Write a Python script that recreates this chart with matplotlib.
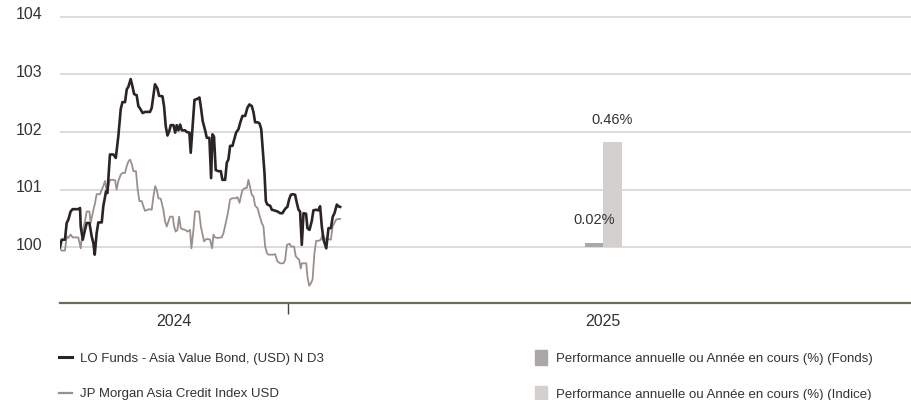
import pandas as pd
import matplotlib
matplotlib.use("Agg")
import matplotlib.pyplot as plt
import matplotlib.transforms as mtransforms
from matplotlib.lines import Line2D
from matplotlib.patches import Patch

# ----- data -----
start = pd.Timestamp("2024-08-21")

# days after start, value (base 100)
fund_day = [0.0, 1.0, 2.9, 3.9, 4.9, 6.2, 7.4, 10.7, 11.7, 12.1, 13.3, 14.6, 15.6, 17.2, 18.5, 19.5,
            20.3, 21.4, 22.4, 24.4, 25.3, 26.9, 27.7, 29.2, 31.2, 32.6, 34.1, 35.5, 36.5, 38.0, 39.0,
            40.0, 41.3, 42.3, 43.3, 44.8, 45.8, 46.8, 48.3, 49.7, 52.6, 53.6, 54.6, 55.5, 56.9, 57.9,
            59.9, 60.8, 61.8, 62.8, 63.9, 64.7, 66.3, 67.3, 68.2, 69.2, 70.2, 71.2, 73.1, 74.1, 75.6,
            76.4, 78.6, 79.9, 81.5, 82.4, 83.4, 84.8, 85.8, 87.3, 88.3, 89.1, 90.0, 91.0, 92.6, 94.0,
            94.9, 96.5, 97.5, 98.4, 99.4, 100.8, 101.8, 102.9, 104.3, 105.3, 106.6, 108.2, 109.5,
            110.7, 112.1, 113.1, 114.0, 115.4, 116.6, 117.6, 118.5, 119.5, 120.3, 121.2, 122.8,
            123.8, 125.1, 127.1, 128.7, 130.0, 131.0, 132.0, 132.9, 133.9, 134.9, 136.0, 137.4,
            138.4, 139.4, 140.3, 141.3, 142.3, 143.8, 144.6, 145.8, 147.1, 148.1, 149.7, 151.0,
            152.0, 153.0, 154.0, 155.6, 156.9, 158.3, 159.4, 160.4, 161.8, 162.7, 163.7]
fund_val = [100.00, 100.13, 100.13, 100.42, 100.48, 100.62, 100.66, 100.66, 100.68, 100.36, 100.13,
            100.30, 100.42, 100.42, 100.19, 100.07, 99.87, 100.24, 100.43, 100.43, 100.71, 100.97,
            100.94, 101.61, 101.61, 101.55, 101.93, 102.40, 102.52, 102.52, 102.74, 102.79, 102.92,
            102.80, 102.66, 102.64, 102.45, 102.41, 102.33, 102.35, 102.35, 102.42, 102.63, 102.83,
            102.76, 102.63, 102.62, 102.45, 102.10, 101.94, 102.02, 102.12, 102.12, 101.99, 102.12,
            102.03, 102.13, 102.03, 102.03, 102.00, 101.99, 101.64, 102.56, 102.57, 102.60, 102.42,
            102.19, 102.03, 101.90, 101.90, 101.20, 101.96, 101.92, 101.34, 101.32, 101.32, 101.17,
            101.17, 101.47, 101.52, 101.76, 101.76, 101.87, 101.99, 102.05, 102.16, 102.28, 102.28,
            102.42, 102.48, 102.45, 102.34, 102.17, 102.17, 102.15, 102.05, 101.70, 101.29, 100.80,
            100.74, 100.72, 100.65, 100.64, 100.62, 100.59, 100.59, 100.64, 100.68, 100.70, 100.83,
            100.91, 100.92, 100.91, 100.77, 100.65, 100.62, 100.04, 100.59, 100.58, 100.33, 100.30,
            100.45, 100.64, 100.65, 100.64, 100.71, 100.36, 100.13, 99.98, 100.33, 100.33, 100.53,
            100.59, 100.74, 100.71, 100.70]

index_day = [0.0, 1.0, 2.9, 3.9, 4.9, 6.2, 7.4, 10.7, 12.1, 13.3, 14.6, 15.6, 17.2, 17.9, 19.1, 20.5,
             21.4, 23.4, 24.4, 25.3, 26.3, 27.3, 28.3, 29.2, 31.2, 32.2, 33.1, 34.1, 35.5, 36.6, 38.0,
             39.0, 40.0, 40.9, 41.9, 42.9, 44.4, 45.4, 46.4, 47.8, 48.7, 49.7, 52.0, 53.6, 54.6, 55.6,
             56.5, 57.5, 58.9, 60.4, 61.4, 62.4, 63.4, 64.3, 65.9, 66.7, 67.6, 68.6, 69.6, 70.6, 71.7,
             73.3, 74.5, 76.0, 76.8, 78.0, 78.9, 81.3, 82.3, 83.2, 84.2, 85.4, 86.7, 87.7, 88.9, 89.7,
             90.6, 92.0, 94.5, 95.5, 97.1, 98.1, 99.4, 100.8, 102.7, 103.7, 104.9, 105.7, 106.6, 108.2,
             109.2, 110.1, 111.1, 112.1, 113.1, 114.0, 115.4, 116.6, 117.9, 118.9, 119.9, 120.9, 121.8,
             124.8, 125.7, 127.1, 128.7, 130.6, 131.6, 132.6, 134.1, 135.1, 136.8, 137.8, 138.8, 139.8,
             140.7, 141.3, 143.9, 144.6, 145.6, 146.6, 147.6, 148.7, 149.7, 151.1, 152.4, 153.6, 155.0,
             156.9, 158.3, 159.3, 160.2, 161.4, 162.8, 163.7]
index_val = [99.98, 99.94, 99.94, 100.19, 100.16, 100.22, 100.17, 100.17, 99.98, 100.30, 100.45,
             100.62, 100.62, 100.42, 100.59, 100.77, 100.92, 100.92, 101.00, 101.06, 101.15, 100.97,
             101.06, 101.17, 101.17, 101.16, 101.00, 101.15, 101.26, 101.29, 101.29, 101.41, 101.49,
             101.52, 101.45, 101.32, 101.32, 101.00, 100.80, 100.80, 100.71, 100.63, 100.66, 100.65,
             100.88, 101.06, 101.00, 100.85, 100.84, 100.65, 100.45, 100.36, 100.45, 100.53, 100.53,
             100.36, 100.27, 100.30, 100.53, 100.33, 100.31, 100.30, 100.27, 100.30, 99.98, 100.30,
             100.62, 100.62, 100.36, 100.24, 100.10, 100.14, 100.14, 100.13, 99.98, 100.22, 100.17,
             100.16, 100.17, 100.24, 100.45, 100.59, 100.83, 100.85, 100.85, 100.87, 100.77, 100.88,
             100.99, 101.03, 101.03, 101.17, 101.04, 100.91, 100.88, 100.72, 100.68, 100.55, 100.42,
             100.36, 100.01, 99.90, 99.87, 99.87, 99.88, 99.75, 99.72, 99.72, 99.78, 100.04, 100.06,
             100.01, 100.01, 99.84, 99.81, 99.78, 99.63, 99.72, 99.72, 99.49, 99.33, 99.37, 99.44,
             99.90, 100.11, 100.11, 100.13, 100.22, 100.13, 100.14, 100.13, 100.36, 100.41, 100.48,
             100.49, 100.49]

years = ["2024", "2025"]
perf_fund = [0.02]    # 2025 YTD (%)
perf_index = [0.46]

fund_label = "LO Funds - Asia Value Bond, (USD) N D3"
index_label = "JP Morgan Asia Credit Index USD"
bar_fund_label = "Performance annuelle ou Année en cours (%) (Fonds)"
bar_index_label = "Performance annuelle ou Année en cours (%) (Indice)"

# ----- style -----
C_FUND = "#2b2325"
C_INDEX = "#9a8f8b"
C_BAR_F = "#aba6a7"
C_BAR_I = "#d4d0cd"
C_TEXT = "#333333"
plt.rcParams["font.family"] = ["Liberation Sans", "DejaVu Sans"]

fig = plt.figure(figsize=(9.12, 4.0), dpi=100)
# axis runs a little past the right edge of the image
ax = fig.add_axes([60 / 912, 97 / 400, 859 / 912, 297 / 400])

fund_x = start + pd.to_timedelta(fund_day, unit="D")
index_x = start + pd.to_timedelta(index_day, unit="D")
ax.plot(index_x, index_val, color=C_INDEX, lw=1.3, zorder=3)
ax.plot(fund_x, fund_val, color=C_FUND, lw=1.9, zorder=4)

y_lo, y_hi = 99.03, 104.19
ax.set_ylim(y_lo, y_hi)
ax.set_yticks([100, 101, 102, 103, 104])
ax.grid(axis="y", color="#d2d2d2", lw=1.1)
ax.set_axisbelow(True)
ax.tick_params(axis="y", length=0, pad=12.5, labelsize=11.5, labelcolor=C_TEXT)
lift = mtransforms.ScaledTranslation(0, 3.5 / 100, fig.dpi_scale_trans)
for lab in ax.get_yticklabels():
    lab.set_transform(lab.get_transform() + lift)

year_start = pd.Timestamp("2025-01-01")
x_end = year_start + pd.Timedelta(days=369)
ax.set_xlim(start, x_end)
ax.set_xticks([year_start])
ax.tick_params(axis="x", which="major", length=8, width=1, color="#444444",
               labelbottom=False)
# year labels centred on the visible part of each year
mids = [start + (year_start - start) / 2, year_start + (x_end - year_start) / 2]
ax.set_xticks(mids, minor=True)
ax.set_xticklabels(years, minor=True, fontsize=11.5, color=C_TEXT)
ax.tick_params(axis="x", which="minor", length=0, pad=8)

for s in ["top", "right", "left"]:
    ax.spines[s].set_visible(False)
ax.spines["bottom"].set_color("#6c6c5c")
ax.spines["bottom"].set_linewidth(1.6)

# bars on a secondary scale, zero aligned with 100
k = 3.98
ax2 = ax.twinx()
ax2.set_ylim((y_lo - 100) / k, (y_hi - 100) / k)
ax2.axis("off")
bar_w = pd.Timedelta(days=10.7)
bx_f = mids[1] - bar_w / 2
bx_i = mids[1] + bar_w / 2
ax2.bar([bx_f], perf_fund, width=bar_w, color=C_BAR_F, zorder=2)
ax2.bar([bx_i], perf_index, width=bar_w, color=C_BAR_I, zorder=2)
for x, v in [(bx_f, perf_fund[0]), (bx_i, perf_index[0])]:
    ax2.annotate(f"{v:.2f}%", (x, v), xytext=(0, 11), textcoords="offset points",
                 ha="center", va="bottom", fontsize=10.5, color=C_TEXT)

# legends
h_lines = [Line2D([], [], color=C_FUND, lw=2.2), Line2D([], [], color=C_INDEX, lw=1.6)]
fig.legend(h_lines, [fund_label, index_label], loc="upper left",
           bbox_to_anchor=(47 / 912, 1 - 341 / 400), frameon=False,
           handlelength=1.0, handletextpad=0.6, labelspacing=1.73,
           prop={"size": 9.5}, labelcolor=C_TEXT)
h_bars = [Patch(color=C_BAR_F), Patch(color=C_BAR_I)]
fig.legend(h_bars, [bar_fund_label, bar_index_label], loc="upper left",
           bbox_to_anchor=(523 / 912, 1 - 338 / 400), frameon=False,
           handlelength=0.9, handleheight=1.4, handletextpad=0.7, labelspacing=1.55,
           prop={"size": 9.5}, labelcolor=C_TEXT)

fig.savefig("out.png", dpi=100)
